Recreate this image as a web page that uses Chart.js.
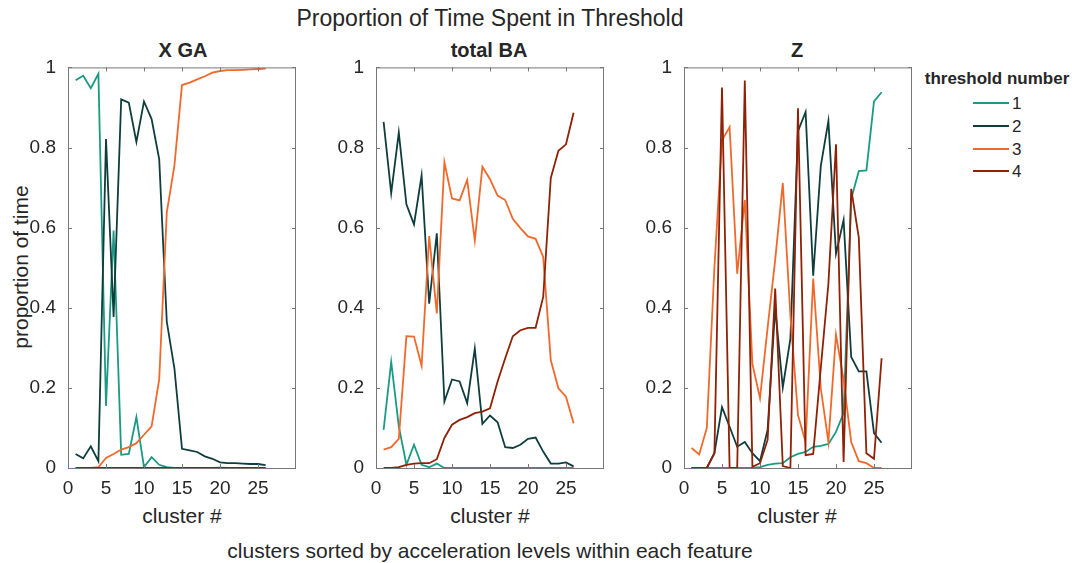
<!DOCTYPE html>
<html>
<head>
<meta charset="utf-8">
<script src="https://cdn.jsdelivr.net/npm/chart.js@4.4.1/dist/chart.umd.min.js"></script>
<style>
  body { margin: 0; background: #fff; }
  #wrap { position: relative; width: 1072px; height: 563px; overflow: hidden;
          font-family: "Liberation Sans", Arial, sans-serif; color: #262626; }
  .txt { position: absolute; transform: translate(-50%, -50%); white-space: nowrap; }
  .panel { position: absolute; }
  .leg { position: absolute; left: 973px; width: 36px; height: 2px; }
  .legtxt { position: absolute; left: 1012px; font-size: 17px; transform: translateY(-50%); }
</style>
</head>
<body>
<div id="wrap">
  <div class="txt" style="left:490px;top:18px;font-size:23px;">Proportion of Time Spent in Threshold</div>
  <div class="txt" style="left:183px;top:50px;font-size:20px;font-weight:bold;">X GA</div>
  <div class="txt" style="left:489px;top:50px;font-size:20px;font-weight:bold;">total BA</div>
  <div class="txt" style="left:797px;top:50px;font-size:20px;font-weight:bold;">Z</div>
  <div class="txt" style="left:21px;top:267px;font-size:21px;transform:translate(-50%,-50%) rotate(-90deg);">proportion of time</div>
  <div class="txt" style="left:182px;top:516px;font-size:21px;">cluster #</div>
  <div class="txt" style="left:490px;top:516px;font-size:21px;">cluster #</div>
  <div class="txt" style="left:797px;top:516px;font-size:21px;">cluster #</div>
  <div class="txt" style="left:490px;top:551px;font-size:21px;">clusters sorted by acceleration levels within each feature</div>

  <div class="txt" style="left:997px;top:79px;font-size:17px;font-weight:bold;">threshold number</div>
  <div class="leg" style="top:102px;background:#1a9a84;"></div><div class="legtxt" style="top:104px;">1</div>
  <div class="leg" style="top:125px;background:#0f3d3e;"></div><div class="legtxt" style="top:127px;">2</div>
  <div class="leg" style="top:148px;background:#f0692a;"></div><div class="legtxt" style="top:150px;">3</div>
  <div class="leg" style="top:170px;background:#8f2106;"></div><div class="legtxt" style="top:172px;">4</div>

  <canvas id="c1" class="panel"></canvas>
  <canvas id="c2" class="panel"></canvas>
  <canvas id="c3" class="panel"></canvas>
</div>
<script>
// cluster numbers and tick values
const clusters = [1,2,3,4,5,6,7,8,9,10,11,12,13,14,15,16,17,18,19,20,21,22,23,24,25,26];
const xTicks = [0, 5, 10, 15, 20, 25];
const seriesNames = ['1', '2', '3', '4'];
const seriesColors = ['#1a9a84', '#0f3d3e', '#f0692a', '#8f2106'];

// X GA
const xga1 = [0.968,0.979,0.948,0.984,0.155,0.593,0.033,0.035,0.127,0.002,0.027,0.008,0.002,0,0,0,0,0,0,0.001,0,0,0,0,0,0];
const xga2 = [0.035,0.024,0.054,0.017,0.821,0.377,0.920,0.912,0.814,0.915,0.871,0.771,0.365,0.249,0.048,0.044,0.040,0.029,0.023,0.014,0.012,0.012,0.011,0.010,0.010,0.007];
const xga3 = [0,0,0,0.002,0.025,0.035,0.046,0.052,0.062,0.083,0.104,0.221,0.638,0.755,0.956,0.962,0.970,0.978,0.987,0.991,0.993,0.993,0.994,0.995,0.996,0.997];
const xga4 = [0,0,0,0,0,0,0,0,0,0,0,0,0,0,0,0,0,0,0,0,0,0,0,0,0,0];

// total BA
const ba1 = [0.095,0.265,0.104,0.008,0.058,0.008,0.002,0.011,0,0,0,0,0,0,0,0,0,0,0,0,0,0,0,0,0,0];
const ba2 = [0.864,0.686,0.837,0.658,0.608,0.730,0.410,0.586,0.166,0.221,0.216,0.162,0.298,0.110,0.131,0.114,0.052,0.050,0.058,0.073,0.076,0.041,0.011,0.011,0.014,0.004];
const ba3 = [0.046,0.052,0.073,0.329,0.328,0.255,0.579,0.386,0.763,0.673,0.668,0.719,0.568,0.752,0.721,0.680,0.669,0.622,0.599,0.578,0.572,0.527,0.269,0.199,0.178,0.112];
const ba4 = [0,0,0.002,0.008,0.011,0.012,0.012,0.022,0.075,0.108,0.120,0.127,0.137,0.141,0.149,0.216,0.274,0.329,0.344,0.350,0.350,0.427,0.724,0.792,0.808,0.887];

// Z
const z1 = [0,0,0,0,0,0,0,0,0,0.002,0.008,0.011,0.012,0.027,0.035,0.040,0.053,0.055,0.060,0.090,0.137,0.672,0.741,0.743,0.915,0.938];
const z2 = [0,0,0,0.037,0.152,0.103,0.053,0.065,0.037,0.017,0.095,0.400,0.201,0.323,0.841,0.889,0.480,0.754,0.866,0.535,0.619,0.277,0.241,0.241,0.087,0.063];
const z3 = [0.050,0.034,0.100,0.500,0.818,0.851,0.485,0.669,0.260,0.174,0.350,0.520,0.711,0.380,0.132,0.065,0.473,0.199,0.065,0.333,0.220,0.065,0.017,0.012,0,0];
const z4 = [0,0,0,0.037,0.950,0,0,0.967,0.003,0.012,0.070,0.448,0.005,0,0.898,0.032,0.035,0.250,0.460,0.808,0.015,0.697,0.575,0.037,0.023,0.274];

// layout of each plot box
const PLOT_W = 228, PLOT_H = 402, PLOT_TOP = 66;
const Y_W = 60, X_H = 40, PAD_T = 14, PAD_R = 10;

// box round the plot with inward ticks, like matlab
const boxTicks = {
  id: 'boxTicks',
  afterDraw(chart) {
    const { ctx, chartArea: a } = chart;
    const x = chart.scales.x, y = chart.scales.y;
    ctx.save();
    ctx.strokeStyle = '#777';
    ctx.lineWidth = 1;
    ctx.strokeRect(a.left + 0.5, a.top + 0.5, a.right - a.left - 1, a.bottom - a.top);
    ctx.beginPath();
    x.ticks.forEach(t => {
      const px = Math.round(x.getPixelForValue(t.value)) + 0.5;
      ctx.moveTo(px, a.bottom); ctx.lineTo(px, a.bottom - 4);
      ctx.moveTo(px, a.top); ctx.lineTo(px, a.top + 4);
    });
    y.ticks.forEach(t => {
      const py = Math.round(y.getPixelForValue(t.value)) + 0.5;
      ctx.moveTo(a.left, py); ctx.lineTo(a.left + 4, py);
      ctx.moveTo(a.right, py); ctx.lineTo(a.right - 4, py);
    });
    ctx.stroke();
    ctx.restore();
  }
};

const panels = [
  { id: 'c1', left: 68, series: [xga1, xga2, xga3, xga4] },
  { id: 'c2', left: 376, series: [ba1, ba2, ba3, ba4] },
  { id: 'c3', left: 684, series: [z1, z2, z3, z4] },
];

panels.forEach(p => {
  const cv = document.getElementById(p.id);
  cv.width = Y_W + PLOT_W + PAD_R;
  cv.height = PAD_T + PLOT_H + X_H;
  cv.style.left = (p.left - Y_W) + 'px';
  cv.style.top = (PLOT_TOP - PAD_T) + 'px';

  const datasets = p.series.map((vals, i) => ({
    label: seriesNames[i],
    data: clusters.map((c, j) => ({ x: c, y: vals[j] })),
    borderColor: seriesColors[i],
    borderWidth: 1.8,
    pointRadius: 0,
    tension: 0,
    order: 3 - i, // later thresholds on top
  }));

  new Chart(cv, {
    type: 'line',
    data: { datasets },
    plugins: [boxTicks],
    options: {
      responsive: false,
      animation: false,
      layout: { padding: { top: PAD_T, right: PAD_R, left: 0, bottom: 0 } },
      plugins: { legend: { display: false }, tooltip: { enabled: false } },
      scales: {
        x: {
          type: 'linear', min: 0, max: 30,
          grid: { display: false }, border: { display: false },
          afterBuildTicks: s => { s.ticks = xTicks.map(v => ({ value: v })); },
          afterFit: s => { s.height = X_H; },
          ticks: { font: { size: 19, family: 'Liberation Sans' }, color: '#262626', padding: 1, maxRotation: 0, autoSkip: false },
        },
        y: {
          min: 0, max: 1,
          grid: { display: false }, border: { display: false },
          afterFit: s => { s.width = Y_W; },
          ticks: {
            stepSize: 0.2, font: { size: 19, family: 'Liberation Sans' }, color: '#262626', padding: 4,
            callback: v => String(Math.round(v * 10) / 10),
          },
        },
      },
    },
  });
});
</script>
</body>
</html>
